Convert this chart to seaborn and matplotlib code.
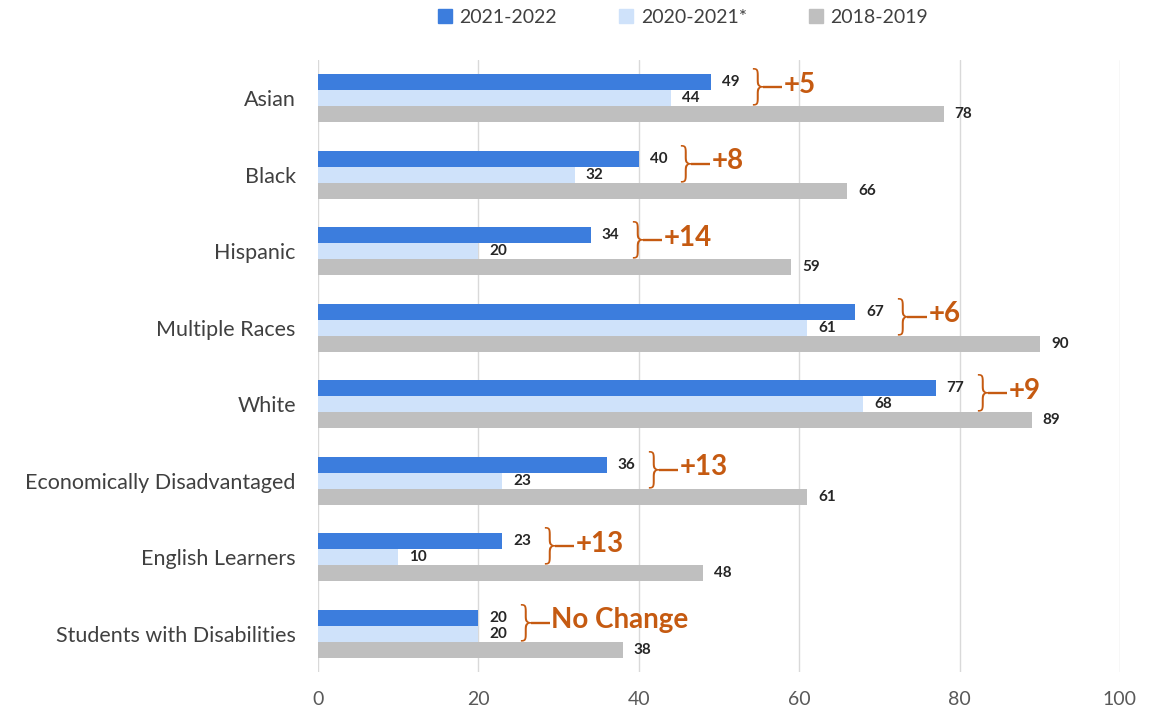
import pandas as pd
import matplotlib.pyplot as plt
import seaborn as sns

# Chart values
groups = ['Asian', 'Black', 'Hispanic', 'Multiple Races', 'White',
          'Economically Disadvantaged', 'English Learners', 'Students with Disabilities']
years = ['2021-2022', '2020-2021*', '2018-2019']
y2122 = [49, 40, 34, 67, 77, 36, 23, 20]
y2021 = [44, 32, 20, 61, 68, 23, 10, 20]
y1819 = [78, 66, 59, 90, 89, 61, 48, 38]
changes = ['+5', '+8', '+14', '+6', '+9', '+13', '+13', 'No Change']

colors = ['#3C7DDD', '#CFE2FA', '#BFBFBF']
orange = '#C55A11'

df = pd.DataFrame({
    'group': groups * 3,
    'year': [years[0]] * 8 + [years[1]] * 8 + [years[2]] * 8,
    'value': y2122 + y2021 + y1819,
})

sns.set_style('white')
plt.rcParams['font.family'] = ['Lato', 'DejaVu Sans']

fig = plt.figure(figsize=(11.54, 7.16), dpi=100)
ax = fig.add_axes([0.2756, 0.0615, 0.6949, 0.8545])

sns.barplot(data=df, x='value', y='group', hue='year', hue_order=years,
            palette=colors, orient='h', width=0.63, saturation=1,
            edgecolor='none', ax=ax, legend=False)

for cont in ax.containers:
    ax.bar_label(cont, padding=8, fontsize=11, fontweight='bold', color='#262626')

ax.set_xlim(0, 100)
ax.set_xticks(range(0, 101, 20))
ax.set_xlabel('')
ax.set_ylabel('')
ax.grid(axis='x', color='#D9D9D9', linewidth=1)
ax.set_axisbelow(True)
for s in ax.spines.values():
    s.set_visible(False)
ax.tick_params(axis='x', labelsize=14, labelcolor='#595959', length=0, pad=14)
ax.tick_params(axis='y', labelsize=15.5, labelcolor='#404040', length=0, pad=16)

# Change braces between the two most recent years
bw = 0.63 / 3
for i, (v, c) in enumerate(zip(y2122, changes)):
    bx = v + 4.3
    yc = i - bw / 2 - 0.04
    ax.text(bx, yc, '}', fontsize=29, color=orange, ha='left', va='center',
            family='DejaVu Sans', fontweight='light')
    ax.plot([bx + 2.2, bx + 4.6], [yc, yc], color=orange, linewidth=1.7,
            solid_capstyle='butt')
    ax.text(bx + 4.8, yc - 0.03, c, fontsize=20, color=orange, fontweight='bold',
            ha='left', va='center')

ax.set_ylim(len(groups) - 0.5, -0.5)

handles = [plt.Rectangle((0, 0), 1, 1, color=col) for col in colors]
fig.legend(handles, years, loc='center', bbox_to_anchor=(0.592, 0.976), ncol=3,
           frameon=False, fontsize=14, handlelength=0.7, handleheight=0.7,
           handletextpad=0.4, columnspacing=3.2, labelcolor='#404040')

fig.savefig('out.png', dpi=100)
